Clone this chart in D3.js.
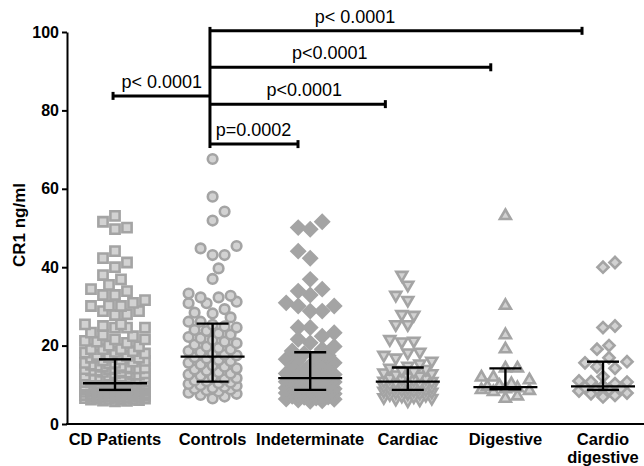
<!DOCTYPE html>
<html>
<head>
<meta charset="utf-8">
<script src="https://cdn.jsdelivr.net/npm/d3@7"></script>
<style>
  body { margin: 0; background: #fff; }
  svg { display: block; font-family: "Liberation Sans", Arial, sans-serif; }
</style>
</head>
<body>
<div id="chart"></div>
<script>
// values (CR1 ng/ml)
const indeterminate = [51.6, 50.1, 49.7, 44.1, 42.3, 36.9, 34.4, 33.9, 32.9, 30.9, 30.1, 30.1, 28.8, 28.8,
  24.6, 24.6, 23.3, 22.4, 21.6, 20.7, 19.8, 19.1, 18.6, 18.0, 17.4, 17.1, 16.5, 16.2, 15.6, 15.1, 14.9,
  14.4, 14.0, 13.6, 13.3, 12.9, 12.6, 12.3, 12.1, 11.9, 11.7, 11.5, 11.3, 11.0, 10.8, 10.7, 10.4, 10.2,
  10.1, 9.8, 9.6, 9.5, 9.3, 9.2, 9.0, 8.9, 8.8, 8.6, 8.5, 8.3, 8.2, 8.0, 7.9, 7.7, 7.6, 7.4, 7.2, 7.1,
  6.9, 6.8, 6.6, 6.4, 6.3, 6.1, 5.9, 5.8];
const cardiac = [38.0, 35.5, 32.9, 31.6, 28.0, 27.8, 25.4, 25.4, 21.6, 21.2, 21.0, 18.4, 18.2, 17.6, 16.9,
  16.1, 15.4, 14.8, 14.3, 14.0, 13.7, 13.4, 13.1, 12.9, 12.6, 12.3, 12.1, 11.8, 11.6, 11.4, 11.2, 11.0,
  10.9, 10.7, 10.6, 10.4, 10.3, 10.1, 10.0, 9.8, 9.7, 9.5, 9.4, 9.2, 9.1, 9.0, 8.8, 8.7, 8.5, 8.4, 8.2,
  8.1, 7.9, 7.8, 7.6, 7.4, 7.2, 7.0, 6.8, 6.6, 6.4, 6.2, 6.0];
const digestive = [53.1, 30.2, 22.7, 19.1, 14.2, 14.2, 11.9, 11.9, 11.2, 10.2, 9.8, 9.5, 9.2, 8.9, 8.7,
  8.5, 8.2, 7.1, 6.5];
const cardioDigestive = [41.2, 40.0, 25.0, 24.6, 20.0, 19.1, 16.9, 15.9, 15.6, 14.6, 14.2, 12.1, 11.0,
  10.8, 10.7, 10.3, 9.7, 9.4, 9.1, 9.0, 8.8, 8.4, 7.9, 7.7, 7.3, 6.9];
const controls = [67.6, 58.0, 54.2, 51.9, 45.4, 44.8, 43.1, 43.1, 39.7, 37.0, 33.3, 32.7, 32.3, 32.3, 31.2,
  30.8, 30.8, 29.3, 28.4, 28.2, 27.2, 26.1, 26.1, 25.3, 24.9, 24.6, 24.0, 23.7, 23.1, 22.8, 22.2, 21.9,
  21.4, 21.0, 20.6, 20.2, 19.7, 19.4, 19.0, 18.6, 18.3, 18.0, 17.7, 17.5, 17.0, 16.7, 16.3, 16.0, 15.6,
  15.2, 14.9, 14.6, 14.2, 13.9, 13.6, 13.2, 12.9, 12.6, 12.3, 12.0, 11.7, 11.4, 11.1, 10.9, 10.6, 10.4,
  10.2, 9.9, 9.7, 9.5, 9.2, 9.0, 8.8, 8.6, 8.3, 8.0, 7.7, 7.4, 7.0, 6.5];
// CD patients = all chagasic subgroups pooled
const cdPatients = [].concat(indeterminate, cardiac, digestive, cardioDigestive);

const categories = ["CD Patients", "Controls", "Indeterminate", "Cardiac", "Digestive", "Cardio digestive"];
const medians = [10.4, 17.2, 11.7, 10.8, 9.4, 9.6];
const q1s = [8.7, 10.8, 8.7, 8.7, 8.85, 8.7];
const q3s = [16.5, 25.6, 18.3, 14.4, 14.2, 15.9];
const yTicks = [0, 20, 40, 60, 80, 100];

// comparisons: from group index, to group index, height, label, label x (group units)
const comparisons = [
  { from: 0.973, to: 4.785, v: 100.3, label: "p< 0.0001", lx: 2.46 },
  { from: 0.973, to: 3.85, v: 91.0, label: "p<0.0001", lx: 2.2 },
  { from: 0.973, to: 2.77, v: 81.6, label: "p<0.0001", lx: 1.94 },
  { from: 0.973, to: 1.875, v: 71.4, label: "p=0.0002", lx: 1.42 },
  { from: 0.973, to: -0.02, v: 83.7, label: "p< 0.0001", lx: 0.48 }
];

const groups = [cdPatients, controls, indeterminate, cardiac, digestive, cardioDigestive];

const width = 644, height = 466;
const svg = d3.select("#chart").append("svg").attr("width", width).attr("height", height);

const y = d3.scaleLinear().domain([0, 100]).range([424, 32]);
const x = d3.scaleLinear().domain([0, 5]).range([115, 603]);

const grey = "#a4a4a4", light = "#d2d2d2";
const sq = d3.symbol().type(d3.symbolSquare).size(85)();
const circ = d3.symbol().type(d3.symbolCircle).size(72)();
const dia = d3.symbol().type(d3.symbolSquare).size(88)();
const dia2 = d3.symbol().type(d3.symbolSquare).size(62)();
const tri = d3.symbol().type(d3.symbolTriangle).size(52)();
const markers = [
  { path: sq, rot: 0, fill: light, stroke: grey },
  { path: circ, rot: 0, fill: light, stroke: grey },
  { path: dia, rot: 45, fill: grey, stroke: grey },
  { path: tri, rot: 180, fill: light, stroke: grey },
  { path: tri, rot: 0, fill: light, stroke: grey },
  { path: dia2, rot: 45, fill: light, stroke: grey }
];
const caps = [30, 24, 26, 25, 24, 24];

// GraphPad-like scatter: points side by side, width capped, overlap when dense
function swarm(values, cap) {
  const D = 11, step = 6;
  const pts = values.map(v => ({ v, py: y(v) })).sort((a, b) => b.py - a.py);
  const placed = [];
  pts.forEach((p, i) => {
    let chosen = null, best = -1, bestOff = 0;
    for (let k = 0; k * step <= cap && chosen === null; k++) {
      const offs = k === 0 ? [0] : (i % 2 ? [k * step, -k * step] : [-k * step, k * step]);
      for (const off of offs) {
        let md = Infinity;
        for (const q of placed) {
          const d = Math.hypot(q.dx - off, q.py - p.py);
          if (d < md) md = d;
        }
        if (md >= D) { chosen = off; break; }
        if (md > best) { best = md; bestOff = off; }
      }
    }
    p.dx = chosen === null ? bestOff : chosen;
    placed.push(p);
  });
  return pts;
}

groups.forEach((vals, gi) => {
  const m = markers[gi];
  svg.append("g")
    .selectAll("path")
    .data(swarm(vals, caps[gi]))
    .join("path")
    .attr("d", m.path)
    .attr("transform", d => `translate(${x(gi) + d.dx},${d.py}) rotate(${m.rot})`)
    .attr("fill", m.fill)
    .attr("stroke", m.stroke)
    .attr("stroke-width", 2.6);
});

// median + interquartile range
const eb = svg.append("g").attr("stroke", "#000").attr("stroke-width", 2.4);
categories.forEach((c, i) => {
  eb.append("line").attr("x1", x(i) - 32).attr("x2", x(i) + 32).attr("y1", y(medians[i])).attr("y2", y(medians[i]));
  eb.append("line").attr("x1", x(i)).attr("x2", x(i)).attr("y1", y(q1s[i])).attr("y2", y(q3s[i]));
  eb.append("line").attr("x1", x(i) - 16).attr("x2", x(i) + 16).attr("y1", y(q1s[i])).attr("y2", y(q1s[i]));
  eb.append("line").attr("x1", x(i) - 16).attr("x2", x(i) + 16).attr("y1", y(q3s[i])).attr("y2", y(q3s[i]));
});

// axes
const yAxis = svg.append("g")
  .attr("transform", "translate(67,0)")
  .call(d3.axisLeft(y).tickValues(yTicks).tickSize(5).tickSizeOuter(0).tickPadding(3));
yAxis.select(".domain").attr("stroke-width", 2);
yAxis.selectAll(".tick line").attr("stroke-width", 2);
yAxis.selectAll("text").attr("font-size", 16).attr("font-weight", "bold").attr("fill", "#000")
  .attr("font-family", "Liberation Sans, Arial, sans-serif");

svg.append("line").attr("x1", 66).attr("x2", 644).attr("y1", 424).attr("y2", 424)
  .attr("stroke", "#000").attr("stroke-width", 2);

svg.append("text")
  .attr("transform", "translate(25,225) rotate(-90)")
  .attr("text-anchor", "middle")
  .attr("font-size", 17).attr("font-weight", "bold")
  .text("CR1 ng/ml");

const xl = svg.append("g").attr("font-size", 16.5).attr("font-weight", "bold").attr("text-anchor", "middle");
categories.forEach((c, i) => {
  const words = c === "Cardio digestive" ? ["Cardio", "digestive"] : [c];
  words.forEach((w, j) => {
    xl.append("text").attr("x", x(i)).attr("y", 445 + j * 18).text(w);
  });
});

// significance brackets
const br = svg.append("g").attr("stroke", "#000").attr("stroke-width", 3);
br.append("line").attr("x1", x(0.973)).attr("x2", x(0.973)).attr("y1", y(101.3)).attr("y2", y(70.4));
comparisons.forEach(c => {
  br.append("line").attr("x1", x(c.from)).attr("x2", x(c.to)).attr("y1", y(c.v)).attr("y2", y(c.v));
  br.append("line").attr("x1", x(c.to)).attr("x2", x(c.to)).attr("y1", y(c.v) - 4).attr("y2", y(c.v) + 4);
  svg.append("text").attr("x", x(c.lx)).attr("y", y(c.v) - 8)
    .attr("text-anchor", "middle").attr("font-size", 18).text(c.label);
});
</script>
</body>
</html>
